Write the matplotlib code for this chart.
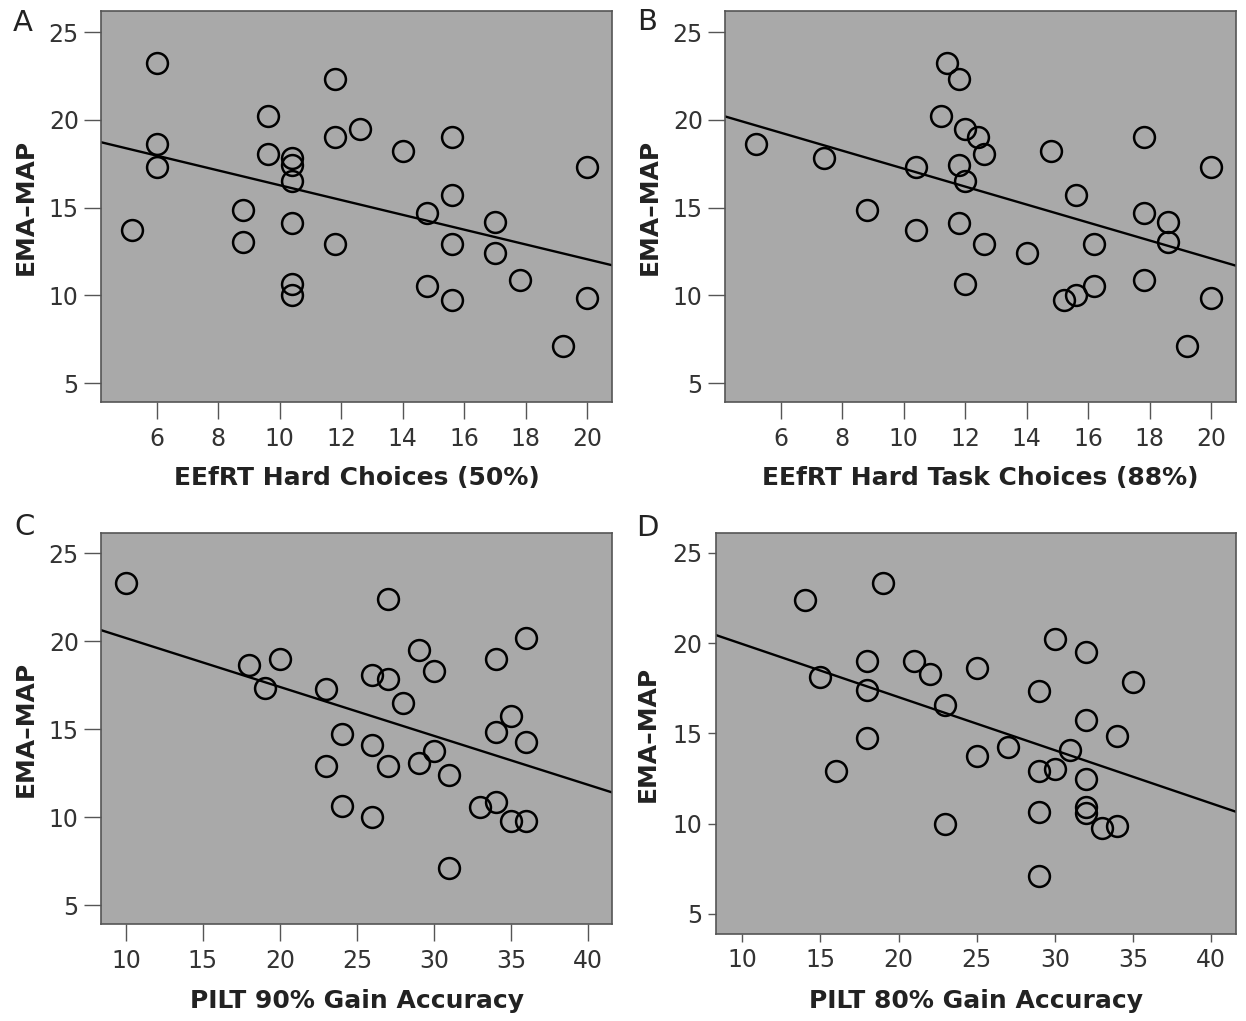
# EMA-MAP vs effort / learning measures, 4-panel scatter with fit lines
import numpy as np
import matplotlib
matplotlib.use('Agg')
import matplotlib.pyplot as plt

OUTPUT_PNG = 'out.png'
W, H = 1246, 1021
DPI = 100

Y_LABEL = 'EMA–MAP'

# panel A: EEfRT hard choices (50%)
A_X = [6.0, 6.0, 6.0, 5.2, 8.8, 8.8, 9.6, 9.6, 10.4, 10.4, 10.4, 10.4, 10.4, 10.4,
       11.8, 11.8, 11.8, 12.6, 14.0, 14.8, 14.8, 15.6, 15.6, 15.6, 15.6,
       17.0, 17.0, 17.8, 19.2, 20.0, 20.0]
A_Y = [23.25, 18.6, 17.3, 13.7, 14.85, 13.05, 20.2, 18.05, 17.85, 17.4, 16.5, 14.1, 10.65, 10.0,
       22.35, 19.0, 12.9, 19.45, 18.25, 14.7, 10.55, 19.0, 15.7, 12.9, 9.75,
       14.2, 12.4, 10.85, 7.1, 17.3, 9.85]

# panel B: EEfRT hard task choices (88%)
B_X = [5.2, 7.4, 8.8, 10.4, 10.4, 11.2, 11.4, 11.8, 12.0, 12.4, 12.6, 11.8, 12.0, 11.8,
       12.6, 12.0, 14.0, 14.8, 15.6, 15.2, 15.6, 16.2, 16.2, 17.8, 17.8, 17.8,
       18.6, 18.6, 19.2, 20.0, 20.0]
B_Y = [18.6, 17.8, 14.85, 17.3, 13.7, 20.2, 23.25, 22.35, 19.45, 19.0, 18.05, 17.4, 16.5, 14.1,
       12.9, 10.65, 12.4, 18.25, 15.7, 9.75, 10.0, 10.55, 12.9, 19.0, 14.7, 10.85,
       14.2, 13.05, 7.1, 17.3, 9.85]

# panel C: PILT 90% gain accuracy
C_X = [10, 27, 36, 29, 20, 18, 34, 30, 26, 27, 19, 23, 28, 35, 24, 34, 36, 26, 30,
       23, 27, 29, 31, 24, 33, 34, 26, 35, 36, 31]
C_Y = [23.3, 22.4, 20.2, 19.5, 19.0, 18.65, 19.0, 18.3, 18.1, 17.85, 17.35, 17.3, 16.5, 15.75,
       14.75, 14.85, 14.25, 14.1, 13.75, 12.9, 12.9, 13.05, 12.4, 10.65, 10.6, 10.85,
       10.0, 9.8, 9.75, 7.1]

# panel D: PILT 80% gain accuracy
D_X = [19, 14, 30, 32, 18, 21, 22, 25, 15, 35, 29, 18, 23, 32, 34, 18, 27, 31, 25,
       16, 29, 30, 32, 32, 32, 29, 23, 33, 34, 29]
D_Y = [23.35, 22.4, 20.25, 19.5, 19.0, 19.0, 18.3, 18.65, 18.1, 17.85, 17.35, 17.4, 16.55, 15.75,
       14.85, 14.75, 14.25, 14.1, 13.75, 12.9, 12.9, 13.05, 12.45, 10.95, 10.6, 10.65,
       10.0, 9.75, 9.85, 7.1]

PANELS = [
    ('A', A_X, A_Y, 'EEfRT Hard Choices (50%)', [6, 8, 10, 12, 14, 16, 18, 20]),
    ('B', B_X, B_Y, 'EEfRT Hard Task Choices (88%)', [6, 8, 10, 12, 14, 16, 18, 20]),
    ('C', C_X, C_Y, 'PILT 90% Gain Accuracy', [10, 15, 20, 25, 30, 35, 40]),
    ('D', D_X, D_Y, 'PILT 80% Gain Accuracy', [10, 15, 20, 25, 30, 35, 40]),
]
Y_TICKS = [5, 10, 15, 20, 25]

# layout in pixels: left, right, top, bottom, xlim, ylim, tick length (pt)
LAYOUT = {
    'A': (101, 612, 11, 402, (4.18, 20.81), (3.92, 26.2), 12),
    'B': (725, 1236, 11, 402, (4.18, 20.81), (3.92, 26.2), 12),
    'C': (101, 612, 533, 924, (8.38, 41.56), (3.92, 26.15), 12),
    'D': (716, 1236, 533, 934, (8.32, 41.6), (3.89, 26.1), 6),
}
LETTER_POS = {'A': (23, 23), 'B': (647, 22), 'C': (25, 527), 'D': (647, 528)}
YLABEL_X = {'A': 26, 'B': 650, 'C': 26, 'D': 648}
XLABEL_BASE = {'A': 485, 'B': 485, 'C': 1008, 'D': 1008}

BG = '#a9a9a9'
EDGE = '#555555'
TXT = '#333333'

plt.rcParams['font.family'] = ['DejaVu Sans']


def main():
    fig = plt.figure(figsize=(W / DPI, H / DPI), dpi=DPI)

    for key, xs, ys, xlabel, xticks in PANELS:
        l, r, t, b, xlim, ylim, tlen = LAYOUT[key]
        ax = fig.add_axes([l / W, 1 - b / H, (r - l) / W, (b - t) / H])
        ax.set_facecolor(BG)
        for s in ax.spines.values():
            s.set_color(EDGE)
            s.set_linewidth(1.2)

        ax.plot(xs, ys, 'o', ms=15, mfc='none', mec='black', mew=1.8, zorder=3)

        # least squares fit line across the full axis
        m, c = np.polyfit(xs, ys, 1)
        lx = np.array(xlim)
        ax.plot(lx, m * lx + c, color='black', lw=1.7, zorder=2)

        ax.set_xlim(*xlim)
        ax.set_ylim(*ylim)
        ax.set_xticks(xticks)
        ax.set_yticks(Y_TICKS)
        ax.tick_params(direction='out', length=tlen, width=1.0, color='#555555',
                       labelsize=17, labelcolor=TXT, pad=4)
        ax.tick_params(axis='x', pad=6 if tlen > 8 else 4)

        ax.set_xlabel(xlabel, fontsize=18, fontweight='bold', color='#222222')
        ax.xaxis.label.set_va('baseline')
        ax.xaxis.set_label_coords(0.5, -(XLABEL_BASE[key] - b) / (b - t))

        ax.set_ylabel(Y_LABEL, fontsize=18, fontweight='bold', color='#222222')
        ax.yaxis.label.set_va('center')
        ax.yaxis.set_label_coords(-(l - YLABEL_X[key]) / (r - l), 0.5)

        lx_, ly_ = LETTER_POS[key]
        fig.text(lx_ / W, 1 - ly_ / H, key, fontsize=21, ha='center', va='center',
                 color='#222222')

    fig.savefig(OUTPUT_PNG, dpi=DPI)
    print(f'Saved {OUTPUT_PNG}')


if __name__ == '__main__':
    main()
